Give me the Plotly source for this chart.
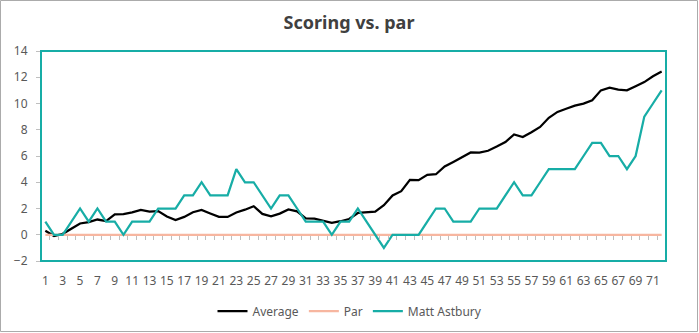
import plotly.graph_objects as go

# Cumulative scoring relative to par, hole by hole
holes = list(range(1, 73))
average = [0.3, -0.1, 0.07, 0.45, 0.86, 0.96, 1.16, 1.04, 1.56, 1.57,
           1.7, 1.9, 1.77, 1.8, 1.39, 1.12, 1.36, 1.72, 1.89, 1.62,
           1.36, 1.36, 1.7, 1.91, 2.17, 1.59, 1.4, 1.61, 1.93, 1.78,
           1.24, 1.22, 1.05, 0.91, 1.03, 1.2, 1.66, 1.71, 1.76, 2.25,
           2.99, 3.32, 4.18, 4.16, 4.57, 4.61, 5.2, 5.55, 5.9, 6.27,
           6.26, 6.4, 6.72, 7.06, 7.64, 7.44, 7.81, 8.21, 8.91, 9.36,
           9.6, 9.84, 9.99, 10.25, 11.0, 11.2, 11.05, 11.0, 11.32, 11.63,
           12.08, 12.44]
par = [0] * 72
matt_astbury = [1, 0, 0, 1, 2, 1, 2, 1, 1, 0,
                1, 1, 1, 2, 2, 2, 3, 3, 4, 3,
                3, 3, 5, 4, 4, 3, 2, 3, 3, 2,
                1, 1, 1, 0, 1, 1, 2, 1, 0, -1,
                0, 0, 0, 0, 1, 2, 2, 1, 1, 1,
                2, 2, 2, 3, 4, 3, 3, 4, 5, 5,
                5, 5, 6, 7, 7, 6, 6, 5, 6, 9,
                10, 11]

x_tick_vals = list(range(1, 72, 2))
x_divider_vals = [h - 0.5 for h in holes] + [72.5]
y_tick_vals = list(range(-2, 15, 2))

TEAL = "#17ADA6"
SALMON = "#F7B6A0"
TEXT = "#595959"
FONT = "Noto Sans"

W, H = 699, 333
L, R, T, B = 41, 33, 51, 72
PW, PH = W - L - R, H - T - B

fig = go.Figure()
fig.add_trace(go.Scatter(x=holes, y=average, name="Average", mode="lines",
                         line=dict(color="#000000", width=2.25)))
fig.add_trace(go.Scatter(x=holes, y=par, name="Par", mode="lines",
                         line=dict(color=SALMON, width=2.25)))
fig.add_trace(go.Scatter(x=holes, y=matt_astbury, name="Matt Astbury", mode="lines",
                         line=dict(color=TEAL, width=2.25)))

# x axis sits on the zero line; its labels are pushed down below the plot
zero_pos = (0 - (-2)) / (14 - (-2))
fig.update_xaxes(
    range=[0.5, 72.5], anchor="free", position=zero_pos, automargin=False,
    tickmode="array", tickvals=x_tick_vals, ticktext=[str(v) for v in x_tick_vals],
    ticks="", showgrid=False, zeroline=False, showline=False,
    ticklabelstandoff=int(zero_pos * PH) + 11,
    tickfont=dict(family=FONT, size=12, color=TEXT),
    minor=dict(tickmode="array", tickvals=x_divider_vals, ticks="outside",
               ticklen=4, tickcolor="#BFBFBF", tickwidth=1, showgrid=False),
)
fig.update_yaxes(
    range=[-2, 14], tickmode="array", tickvals=y_tick_vals, automargin=False,
    ticks="outside", ticklen=4, tickcolor="#BFBFBF",
    showgrid=False, zeroline=False, showline=False,
    ticklabelstandoff=6,
    tickfont=dict(family=FONT, size=12, color=TEXT),
)

def px_x(p):
    return (p - L) / PW

def px_y(p):
    return (H - B - p) / PH

fig.add_shape(type="rect", xref="paper", yref="paper", x0=0, x1=1, y0=0, y1=1,
              line=dict(color=TEAL, width=2), layer="above")
fig.add_shape(type="rect", xref="paper", yref="paper",
              x0=px_x(0.5), x1=px_x(697.5), y0=px_y(331.5), y1=px_y(0.5),
              line=dict(color="#ABABAB", width=1), layer="below")

fig.update_layout(
    width=W, height=H,
    margin=dict(l=L, r=R, t=T, b=B, autoexpand=False),
    paper_bgcolor="white", plot_bgcolor="white",
    title=dict(text="<b>Scoring vs. par</b>", x=349 / W, xref="container", xanchor="center",
               y=1 - 23 / H, yref="container", yanchor="middle",
               font=dict(family=FONT, size=18, color="#404040")),
    legend=dict(orientation="h", x=350 / W, xref="container", xanchor="center",
                y=1 - 311 / H, yref="container", yanchor="middle",
                font=dict(family=FONT, size=12, color=TEXT),
                itemwidth=30, tracegroupgap=0),
    showlegend=True,
)

fig.write_html("out.html")
